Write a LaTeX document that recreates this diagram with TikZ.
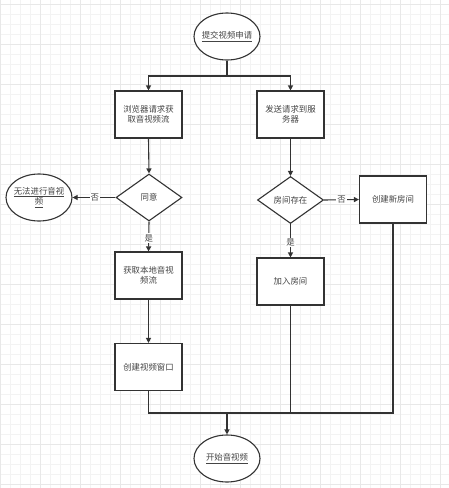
\documentclass[tikz,border=0pt]{standalone}
\usepackage{fontspec}
\setmainfont{Noto Sans CJK SC}
\usetikzlibrary{shapes.geometric,arrows.meta}
\definecolor{ln}{HTML}{333333}
\definecolor{tx}{HTML}{444444}
\definecolor{gminor}{HTML}{F3F3F3}
\definecolor{gmajor}{HTML}{E8E8E8}
\tikzset{
  base/.style={draw=ln, line width=1.1pt, fill=white, inner sep=0pt},
  txt/.style={text=tx, font=\fontsize{8.4pt}{10.5pt}\selectfont, align=center},
  boxn/.style={base, txt, rectangle, minimum width=67pt, minimum height=47pt, text width=60pt},
  dia/.style={base, diamond, minimum width=66pt, minimum height=47pt},
  oval/.style={base, ellipse, minimum width=66pt, minimum height=47pt},
  inner/.style={label={[txt, inner sep=0pt]center:#1}},
  conn/.style={draw=ln, line width=1.1pt, -{Triangle[length=5pt,width=5pt]}},
  plain/.style={draw=ln, line width=1.1pt},
  lab/.style={fill=white, text=tx, font=\fontsize{8.4pt}{10pt}\selectfont, inner sep=1pt},
}
\begin{document}
\begin{tikzpicture}[x=1pt,y=-1pt]
\useasboundingbox (0,0) rectangle (449,488);
\fill[white] (0,0) rectangle (449,488);
\foreach \i in {0,10,...,440} \draw[gminor, line width=0.6pt] (\i,0) -- (\i,488);
\foreach \j in {4,14,...,484} \draw[gminor, line width=0.6pt] (0,\j) -- (449,\j);
\foreach \i in {0,40,...,440} \draw[gmajor, line width=0.7pt] (\i,0) -- (\i,488);
\foreach \j in {4,44,...,484} \draw[gmajor, line width=0.7pt] (0,\j) -- (449,\j);

\node[oval, inner={\underline{提交视频申请}}] (start) at (227,36.5) {};
\node[boxn] (b1) at (148.5,114.5) {浏览器请求获\\取音视频流};
\node[boxn] (b2) at (290.5,114.5) {发送请求到服\\务器};
\node[dia, inner={同意}] (d1) at (149,197.5) {};
\node[oval, inner={\underline{无法进行音视}\\\underline{频}}] (fail) at (39,197.5) {};
\node[dia, inner={房间存在}] (d2) at (290.5,200) {};
\node[boxn] (newroom) at (393,199.5) {创建新房间};
\node[boxn] (local) at (148.5,275.5) {获取本地音视\\频流};
\node[boxn] (join) at (290.5,281.5) {加入房间};
\node[boxn] (win) at (148.5,367) {创建视频窗口};
\node[oval, inner={\underline{开始音视频}}] (go) at (227,458.5) {};

\coordinate (split) at (227,76);
\coordinate (merge) at (227,413);

\draw[plain] (start.south) -- (split);
\draw[conn] (split) -| (b1.north);
\draw[conn] (split) -| (b2.north);
\draw[conn] (b1.south) -- (d1.north);
\draw[conn] (b2.south) -- (d2.north);
\draw[conn] (d1.west) -- node[lab, pos=0.48] {否} (fail.east);
\draw[conn] (d1.south) -- node[lab, pos=0.55] {是} (local.north);
\draw[conn] (d2.east) -- node[lab, pos=0.5] {否} (newroom.west);
\draw[conn] (d2.south) -- node[lab, pos=0.55] {是} (join.north);
\draw[conn] (local.south) -- (win.north);
\draw[plain] (win.south) |- (merge);
\draw[plain] (join.south) |- (merge);
\draw[plain] (newroom.south) |- (merge);
\draw[conn] (merge) -- (go.north);
\end{tikzpicture}
\end{document}
